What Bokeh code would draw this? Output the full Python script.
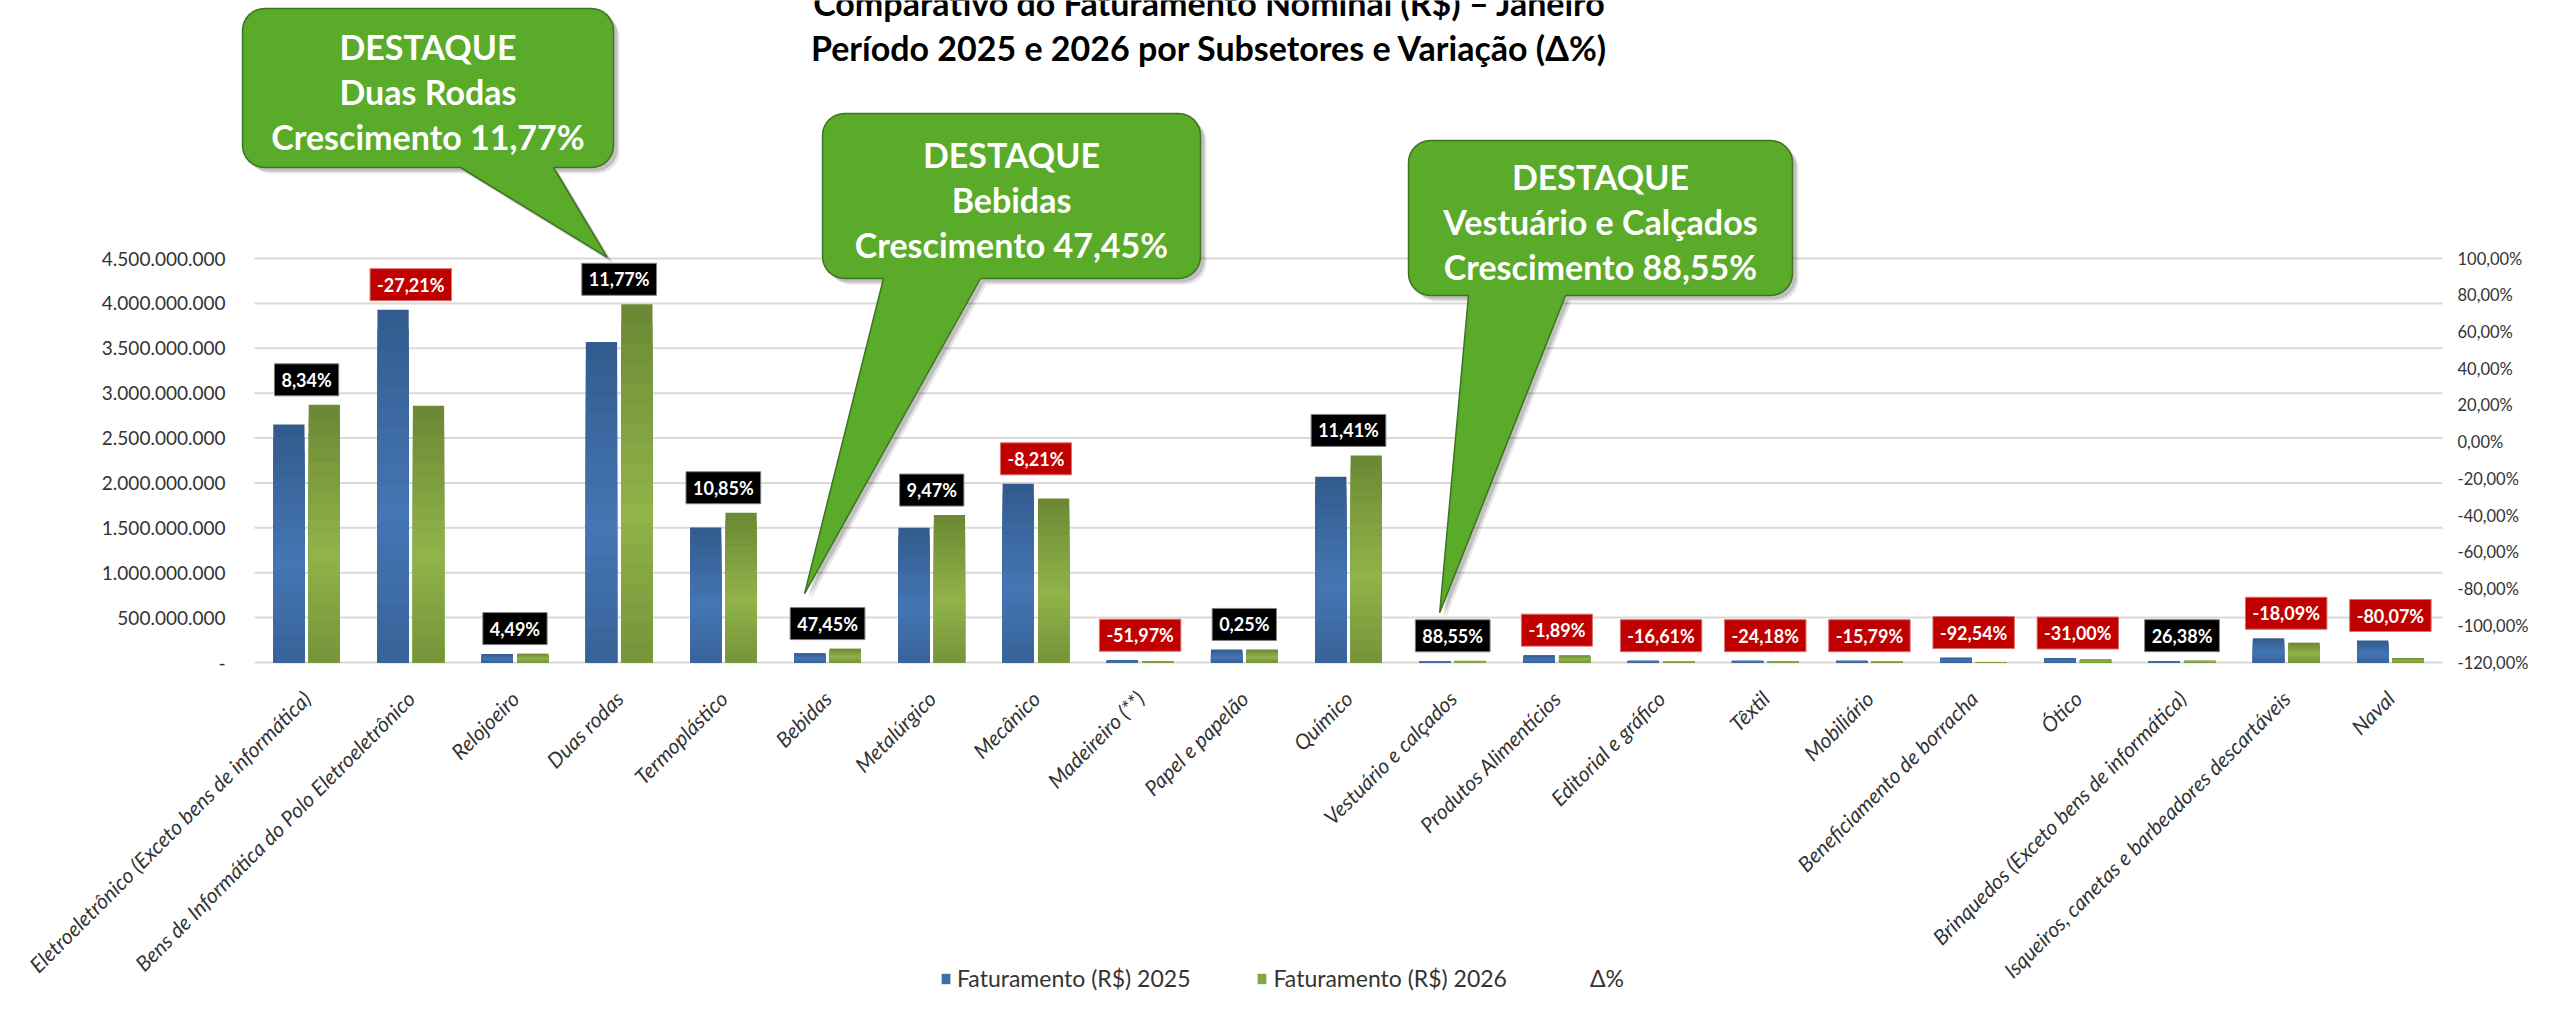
import math
from bokeh.plotting import figure
from bokeh.models import (Range1d, LinearAxis, FixedTicker, Label, Legend,
                          LegendItem, ColumnDataSource)
from bokeh.embed import file_html
from bokeh.resources import INLINE

# ---------------- data ----------------
categories = [
    "Eletroeletrônico (Exceto bens de informática)",
    "Bens de Informática do Polo Eletroeletrônico",
    "Relojoeiro",
    "Duas rodas",
    "Termoplástico",
    "Bebidas",
    "Metalúrgico",
    "Mecânico",
    "Madeireiro (**)",
    "Papel e papelão",
    "Químico",
    "Vestuário e calçados",
    "Produtos Alimentícios",
    "Editorial e gráfico",
    "Têxtil",
    "Mobiliário",
    "Beneficiamento de borracha",
    "Ótico",
    "Brinquedos (Exceto bens de informática)",
    "Isqueiros, canetas e barbeadores descartáveis",
    "Naval",
]
fat_2025 = [2_650_000_000, 3_930_000_000, 95_000_000, 3_570_000_000, 1_505_000_000,
            105_000_000, 1_500_000_000, 1_990_000_000, 25_000_000, 145_000_000,
            2_070_000_000, 10_000_000, 82_000_000, 20_000_000, 20_000_000,
            20_000_000, 55_000_000, 50_000_000, 16_000_000, 270_000_000, 245_000_000]
fat_2026 = [2_870_000_000, 2_860_000_000, 99_000_000, 3_990_000_000, 1_668_000_000,
            155_000_000, 1_642_000_000, 1_827_000_000, 12_000_000, 145_400_000,
            2_306_000_000, 18_900_000, 80_500_000, 16_700_000, 15_200_000,
            16_800_000, 4_100_000, 34_500_000, 20_200_000, 221_000_000, 48_800_000]
delta_pct = [8.34, -27.21, 4.49, 11.77, 10.85, 47.45, 9.47, -8.21, -51.97, 0.25,
             11.41, 88.55, -1.89, -16.61, -24.18, -15.79, -92.54, -31.00, 26.38,
             -18.09, -80.07]
left_ticks = [0, 500_000_000, 1_000_000_000, 1_500_000_000, 2_000_000_000,
              2_500_000_000, 3_000_000_000, 3_500_000_000, 4_000_000_000, 4_500_000_000]
right_ticks = [-120, -100, -80, -60, -40, -20, 0, 20, 40, 60, 80, 100]
title_lines = ["Comparativo do Faturamento Nominal (R$) – Janeiro",
               "Período 2025 e 2026 por Subsetores e Variação (Δ%)"]
legend_labels = ["Faturamento (R$) 2025", "Faturamento (R$) 2026", "Δ%"]
highlight_cats = ["Duas rodas", "Bebidas", "Vestuário e calçados"]
highlight_names = ["Duas Rodas", "Bebidas", "Vestuário e Calçados"]

# ---------------- layout (canvas pixel geometry) ----------------
W, H = 2533, 993
CAT_L, CAT_R = 254, 2442          # plot-area left / right
ZERO_Y, TOP_Y = 662, 258          # rows of value 0 and of the top left tick
n = len(categories)
FONT = "Lato"

upp = left_ticks[-1] / (ZERO_Y - TOP_Y)
ppp = (right_ticks[-1] - right_ticks[0]) / (ZERO_Y - TOP_Y)


def dx(px):
    return -0.5 + (px - CAT_L) / (CAT_R - CAT_L) * n


def dy(py):
    return (ZERO_Y - py) * upp


def px_of(x):
    return CAT_L + (x + 0.5) / n * (CAT_R - CAT_L)


def py_of(y):
    return ZERO_Y - y / upp


p = figure(width=W, height=H,
           x_range=Range1d(dx(0), dx(W)), y_range=Range1d(dy(H), dy(0)),
           output_backend="svg", toolbar_location=None, title=None,
           min_border=0, min_border_left=0, min_border_right=0,
           min_border_top=0, min_border_bottom=0)
p.extra_y_ranges = {"pct": Range1d(right_ticks[0] - (H - ZERO_Y) * ppp,
                                   right_ticks[0] + ZERO_Y * ppp)}
p.outline_line_color = None
p.background_fill_color = "white"
p.xgrid.visible = False
p.ygrid.visible = False

TICK_COLOR = "#333333"
# left axis (drawn at the plot-area left edge)
ly = p.yaxis[0]
ly.fixed_location = -0.5
ly.ticker = FixedTicker(ticks=left_ticks)
ly.major_label_overrides = {t: ("-" if t == 0 else f"{t:,}".replace(",", ".")) for t in left_ticks}
ly.axis_line_color = None
ly.major_tick_line_color = None
ly.minor_tick_line_color = None
ly.major_label_standoff = 23
ly.major_label_text_font = FONT
ly.major_label_text_font_size = "19px"
ly.major_label_text_color = TICK_COLOR

# right axis
ry = LinearAxis(y_range_name="pct", ticker=FixedTicker(ticks=right_ticks),
                fixed_location=n - 0.5)
ry.major_label_overrides = {t: f"{t},00%" for t in right_ticks}
ry.axis_line_color = None
ry.major_tick_line_color = None
ry.minor_tick_line_color = None
ry.major_label_standoff = 9
ry.major_label_text_font = FONT
ry.major_label_text_font_size = "16.5px"
ry.major_label_text_color = TICK_COLOR
p.add_layout(ry, "right")

# category axis at value 0
xa = p.xaxis[0]
xa.fixed_location = 0
xa.ticker = FixedTicker(ticks=list(range(n)))
xa.major_label_overrides = {i: c for i, c in enumerate(categories)}
xa.major_label_orientation = math.pi / 4
xa.major_label_text_font = FONT
xa.major_label_text_font_style = "italic"
xa.major_label_text_font_size = "21px"
xa.major_label_text_color = TICK_COLOR
xa.major_tick_line_color = None
xa.minor_tick_line_color = None
xa.axis_line_color = None
xa.major_label_standoff = 26

# horizontal gridlines across the plot area
m = len(left_ticks)
p.segment(x0=[-0.5] * m, y0=left_ticks, x1=[n - 0.5] * m, y1=left_ticks,
          line_color="#D9D9D9", line_width=2)


# ---------------- gradient bars ----------------
def hex2rgb(h):
    h = h.lstrip("#")
    return tuple(int(h[i:i + 2], 16) for i in (0, 2, 4))


def rgb2hex(c):
    return "#%02x%02x%02x" % tuple(int(round(v)) for v in c)


def band_colors(dark, light, nb):
    d, l = hex2rgb(dark), hex2rgb(light)
    out = []
    for k in range(nb):
        t = (k + 0.5) / nb
        w = max(0.0, 1 - abs(t - 0.42) / 0.58)
        out.append(rgb2hex([d[j] + (l[j] - d[j]) * w for j in range(3)]))
    return out


NB = 18
BAR_W = 0.30
OFF = 0.17
series = [(fat_2025, -OFF, "#325B8C", "#4576B4"),
          (fat_2026, +OFF, "#6A8834", "#91B349")]
bar_renderers = []
LEG_BAND = NB // 4
for vals, off, dark, light in series:
    cols = band_colors(dark, light, NB)
    xs, tops, fills = [], [], []
    for k in reversed(range(NB)):
        for i, v in enumerate(vals):
            xs.append(i + off)
            tops.append(v * (k + 1) / NB)
            fills.append(cols[k])
    src = ColumnDataSource(dict(x=xs, top=tops, fill=fills))
    bar_renderers.append(p.vbar(x="x", top="top", bottom=0, width=BAR_W,
                                fill_color="fill", line_color=None, source=src))
leg_index = (NB - 1 - LEG_BAND) * n

# invisible Δ% series
r_delta = p.line(x=list(range(n)), y=delta_pct, y_range_name="pct", line_alpha=0)

# ---------------- Δ% labels ----------------
LABEL_GAP = 9
LABEL_BOX_H = 33
for i, d in enumerate(delta_pct):
    top = max(fat_2025[i], fat_2026[i])
    txt = f"{d:.2f}".replace(".", ",") + "%"
    neg = d < 0
    p.add_layout(Label(
        x=i, y=top, y_offset=LABEL_GAP, text=txt,
        text_align="center", text_baseline="bottom",
        text_font=FONT, text_font_style="bold", text_font_size="18px",
        text_color="white",
        background_fill_color="#C00000" if neg else "#000000",
        border_line_color="#D9706F" if neg else "#808080",
        border_line_width=1, padding=(7, 5)))

# ---------------- callouts ----------------
callout_boxes = [(242, 8, 613, 167), (822, 113, 1200, 278), (1408, 140, 1792, 295)]
tail_bases = [(460, 553), (883, 980), (1468, 1565)]
tip_shift = [(-12, -5), (-23, -13), (-13, -6)]
R = 22


def callout_poly(box, base, tip):
    bx0, by0, bx1, by1 = box
    pts = []

    def arc(cx, cy, a0, a1):
        for s in range(9):
            a = math.radians(a0 + (a1 - a0) * s / 8)
            pts.append((cx + R * math.cos(a), cy + R * math.sin(a)))
    arc(bx0 + R, by0 + R, 180, 270)
    arc(bx1 - R, by0 + R, 270, 360)
    arc(bx1 - R, by1 - R, 0, 90)
    pts.append((base[1], by1))
    pts.append(tip)
    pts.append((base[0], by1))
    arc(bx0 + R, by1 - R, 90, 180)
    return pts


for cat, name, box, base, shift in zip(highlight_cats, highlight_names,
                                       callout_boxes, tail_bases, tip_shift):
    i = categories.index(cat)
    label_top = py_of(max(fat_2025[i], fat_2026[i])) - LABEL_GAP - LABEL_BOX_H
    tip = (px_of(i) + shift[0], label_top + shift[1])
    pts = callout_poly(box, base, tip)
    for off_px, alpha in ((6, 0.10), (4, 0.16)):
        p.patch([dx(a + off_px) for a, b in pts], [dy(b + off_px) for a, b in pts],
                fill_color="#000000", fill_alpha=alpha, line_color=None)
    p.patch([dx(a) for a, b in pts], [dy(b) for a, b in pts],
            fill_color="#5AAB29", line_color="#3D7420", line_width=1.5)
    cx = (box[0] + box[2]) / 2
    cy = (box[1] + box[3]) / 2
    pct_txt = f"{delta_pct[i]:.2f}".replace(".", ",") + "%"
    for k, line in enumerate(["DESTAQUE", name, f"Crescimento {pct_txt}"]):
        p.add_layout(Label(x=dx(cx), y=dy(cy + (k - 1) * 45 + 3), text=line,
                           text_align="center", text_baseline="middle",
                           text_font=FONT, text_font_style="bold",
                           text_font_size="34px", text_color="white"))

# ---------------- title ----------------
for line, base_px in zip(title_lines, (2, 47)):
    p.add_layout(Label(x=dx(1209), y=dy(base_px), text=line,
                       text_align="center", text_baseline="alphabetic",
                       text_font=FONT, text_font_style="bold",
                       text_font_size="34px", text_color="#000000"))

# ---------------- legend ----------------
legend = Legend(items=[LegendItem(label=legend_labels[0], renderers=[bar_renderers[0]], index=leg_index),
                       LegendItem(label=legend_labels[1], renderers=[bar_renderers[1]], index=leg_index),
                       LegendItem(label=legend_labels[2], renderers=[r_delta])],
                orientation="horizontal", location=(940, 1),
                glyph_width=11, glyph_height=13, label_standoff=6, spacing=66,
                padding=0, margin=0, background_fill_alpha=0, border_line_color=None,
                label_text_font=FONT, label_text_font_size="23px",
                label_text_color="#333333")
p.add_layout(legend)

open("out.html", "w").write(file_html(p, INLINE))
